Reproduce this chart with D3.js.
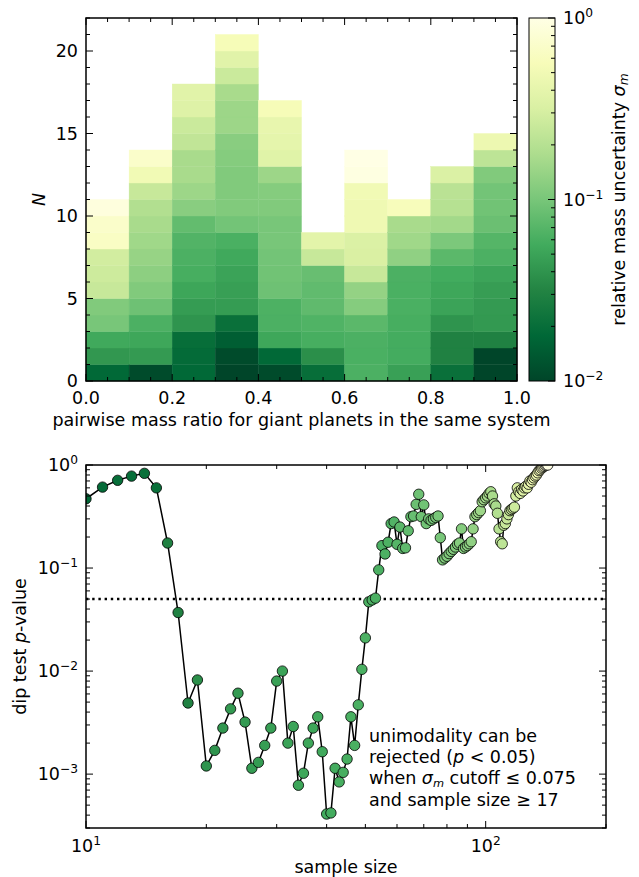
<!DOCTYPE html>
<html>
<head>
<meta charset="utf-8">
<script src="https://cdn.jsdelivr.net/npm/d3@7"></script>
<style>
  html, body { margin: 0; padding: 0; background: #ffffff; }
  svg { display: block; }
  text { font-family: "DejaVu Sans", sans-serif; fill: #000; }
</style>
</head>
<body>
<svg id="chart" width="639" height="877"></svg>
<script>
// ---------------- DATA ----------------
// Histogram bin edges (pairwise mass ratio)
const binEdges = [0.0, 0.1, 0.2, 0.3, 0.4, 0.5, 0.6, 0.7, 0.8, 0.9, 1.0];
// relative mass uncertainty sigma_m of each planet pair, stacked bottom→top in each bin
const sigmaBin0 = [0.018, 0.042, 0.055, 0.10, 0.11, 0.25, 0.27, 0.29, 0.65, 0.70, 0.90];
const sigmaBin1 = [0.011, 0.044, 0.053, 0.063, 0.09, 0.11, 0.125, 0.14, 0.155, 0.17, 0.19, 0.25, 0.50, 0.70];
const sigmaBin2 = [0.018, 0.019, 0.020, 0.040, 0.045, 0.052, 0.060, 0.063, 0.067, 0.080, 0.12, 0.15, 0.17, 0.17, 0.23, 0.26, 0.35, 0.37];
const sigmaBin3 = [0.010, 0.011, 0.015, 0.021, 0.045, 0.047, 0.050, 0.055, 0.062, 0.095, 0.11, 0.11, 0.11, 0.115, 0.12, 0.15, 0.15, 0.17, 0.26, 0.37, 0.55];
const sigmaBin4 = [0.011, 0.018, 0.053, 0.063, 0.064, 0.09, 0.093, 0.095, 0.10, 0.10, 0.11, 0.115, 0.15, 0.36, 0.40, 0.42, 0.55];
const sigmaBin5 = [0.020, 0.037, 0.060, 0.066, 0.078, 0.079, 0.085, 0.25, 0.38];
const sigmaBin6 = [0.063, 0.062, 0.063, 0.074, 0.115, 0.135, 0.25, 0.32, 0.33, 0.48, 0.48, 0.50, 0.95, 1.0];
const sigmaBin7 = [0.048, 0.058, 0.058, 0.060, 0.062, 0.062, 0.063, 0.13, 0.155, 0.17, 0.58];
const sigmaBin8 = [0.021, 0.030, 0.030, 0.040, 0.050, 0.053, 0.057, 0.074, 0.105, 0.16, 0.20, 0.21, 0.33];
const sigmaBin9 = [0.010, 0.010, 0.030, 0.043, 0.044, 0.046, 0.051, 0.063, 0.069, 0.087, 0.093, 0.095, 0.11, 0.22, 0.46];
const sigmaBins = [sigmaBin0, sigmaBin1, sigmaBin2, sigmaBin3, sigmaBin4, sigmaBin5, sigmaBin6, sigmaBin7, sigmaBin8, sigmaBin9];

const histXTicks = [0.0, 0.2, 0.4, 0.6, 0.8, 1.0];
const histXTickLabels = ["0.0", "0.2", "0.4", "0.6", "0.8", "1.0"];
const histYTicks = [0, 5, 10, 15, 20];
const cbarTicks = [0.01, 0.1, 1];
const cbarTickExp = ["−2", "−1", "0"];

// dip test: sample size vs p-value
const sampleSize = [10, 11, 12, 13, 14, 15, 16, 17, 18, 19, 20, 21, 22, 23, 24, 25, 26, 27, 28, 29,
  30, 31, 32, 33, 34, 35, 36, 37, 38, 39, 40, 41, 42, 43, 44, 45, 46, 47, 48, 49,
  50, 51, 52, 53, 54, 55, 56, 57, 58, 59, 60, 61, 62, 63, 64, 65, 66, 67, 68, 69,
  70, 71, 72, 73, 74, 75, 76, 77, 78, 79, 80, 81, 82, 83, 84, 85, 86, 87, 88, 89,
  90, 91, 92, 93, 94, 95, 96, 97, 98, 99, 100, 101, 102, 103, 104, 105, 106, 107, 108, 109,
  110, 111, 112, 113, 114, 115, 116, 117, 118, 119, 120, 121, 122, 123, 124, 125, 126, 127, 128, 129,
  130, 131, 132, 133, 134, 135, 136, 137, 138, 139, 140, 141, 142, 143];
const pValue = [0.47, 0.61, 0.71, 0.78, 0.83, 0.60, 0.175, 0.037, 0.0049, 0.0082,
  0.0012, 0.0017, 0.0028, 0.0043, 0.0061, 0.0032, 0.00114, 0.0013, 0.0019, 0.0028,
  0.0080, 0.0100, 0.0020, 0.0029, 0.00078, 0.00102, 0.0020, 0.0028, 0.0036, 0.00165,
  0.00041, 0.00042, 0.00114, 0.00084, 0.00104, 0.0014, 0.0036, 0.0019, 0.0047, 0.0104,
  0.021, 0.047, 0.049, 0.051, 0.096, 0.165, 0.137, 0.178, 0.27, 0.28,
  0.17, 0.25, 0.155, 0.157, 0.23, 0.315, 0.32, 0.415, 0.52, 0.315,
  0.41, 0.27, 0.30, 0.29, 0.30, 0.31, 0.32, 0.197, 0.12, 0.125,
  0.13, 0.138, 0.145, 0.152, 0.16, 0.17, 0.175, 0.24, 0.155, 0.16,
  0.165, 0.172, 0.18, 0.24, 0.315, 0.33, 0.345, 0.36, 0.44, 0.46,
  0.48, 0.50, 0.53, 0.55, 0.50, 0.42, 0.40, 0.34, 0.24, 0.18,
  0.172, 0.26, 0.27, 0.30, 0.33, 0.36, 0.37, 0.38, 0.39, 0.50,
  0.60, 0.55, 0.53, 0.58, 0.56, 0.60, 0.62, 0.60, 0.65, 0.70,
  0.68, 0.72, 0.75, 0.78, 0.80, 0.84, 0.88, 0.90, 0.93, 0.95,
  0.97, 0.99, 1.0, 1.0];
const pThreshold = 0.05;
const dipXTicks = [10, 100];
const dipXTickExp = ["1", "2"];
const dipYTicks = [0.001, 0.01, 0.1, 1];
const dipYTickExp = ["−3", "−2", "−1", "0"];
const annotationLines = ["unimodality can be", "rejected", "when", "and sample size ≥ 17"];

// ---------------- SETUP ----------------
const svg = d3.select("#chart");
const FONT = 17.5;
const MAJ = 7, MIN = 4;

const ylgnStops = ["#ffffe5", "#f7fcb9", "#d9f0a3", "#addd8e", "#78c679", "#41ab5d", "#238443", "#006837", "#004529"];
const ylgn = d3.scaleLinear().domain(d3.range(9).map(i => i / 8)).range(ylgnStops).interpolate(d3.interpolateRgb);
const sigmaToT = d3.scaleLog().domain([0.01, 1]).range([1, 0]).clamp(true);
const color = s => ylgn(sigmaToT(s));

function minorLog(lo, hi) {
  const out = [];
  for (let e = Math.floor(Math.log10(lo)); e <= Math.ceil(Math.log10(hi)); e++) {
    for (let m = 2; m <= 9; m++) {
      const v = m * Math.pow(10, e);
      if (v >= lo * 0.999 && v <= hi * 1.001) out.push(v);
    }
  }
  return out;
}

function ticksLine(g, vals, scale, orient, len, x0, x1, y0, y1) {
  vals.forEach(v => {
    const p = scale(v);
    if (orient === "bottom") g.append("line").attr("x1", p).attr("x2", p).attr("y1", y1).attr("y2", y1 - len);
    if (orient === "top") g.append("line").attr("x1", p).attr("x2", p).attr("y1", y0).attr("y2", y0 + len);
    if (orient === "left") g.append("line").attr("y1", p).attr("y2", p).attr("x1", x0).attr("x2", x0 + len);
    if (orient === "right") g.append("line").attr("y1", p).attr("y2", p).attr("x1", x1).attr("x2", x1 - len);
  });
}

function supLabel(g, x, y, anchor, base, exp) {
  const t = g.append("text").attr("x", x).attr("y", y).attr("text-anchor", anchor)
    .attr("font-size", FONT);
  t.append("tspan").text(base);
  t.append("tspan").attr("dy", -7).attr("font-size", FONT * 0.7).text(exp);
  return t;
}

// ---------------- TOP: stacked histogram ----------------
const H = { left: 86, right: 517, top: 18, bottom: 381 };
const hx = d3.scaleLinear().domain([0, 1]).range([H.left, H.right]);
const hy = d3.scaleLinear().domain([0, 22]).range([H.bottom, H.top]);

const gH = svg.append("g");
sigmaBins.forEach((bin, i) => {
  bin.forEach((s, j) => {
    gH.append("rect")
      .attr("x", hx(binEdges[i]))
      .attr("width", hx(binEdges[i + 1]) - hx(binEdges[i]))
      .attr("y", hy(j + 1))
      .attr("height", hy(j) - hy(j + 1))
      .attr("fill", color(s))
      .attr("stroke", color(s))
      .attr("stroke-width", 0.4);
  });
});

const gHt = svg.append("g").attr("stroke", "#000").attr("stroke-width", 1);
const hxMinor = [0.05,0.1,0.15,0.25,0.3,0.35,0.45,0.5,0.55,0.65,0.7,0.75,0.85,0.9,0.95];
const hyMinor = d3.range(0, 23).filter(v => v % 5 !== 0);
["bottom", "top"].forEach(o => {
  ticksLine(gHt, histXTicks, hx, o, MAJ, H.left, H.right, H.top, H.bottom);
  ticksLine(gHt, hxMinor, hx, o, MIN, H.left, H.right, H.top, H.bottom);
});
["left", "right"].forEach(o => {
  ticksLine(gHt, histYTicks, hy, o, MAJ, H.left, H.right, H.top, H.bottom);
  ticksLine(gHt, hyMinor, hy, o, MIN, H.left, H.right, H.top, H.bottom);
});
svg.append("rect").attr("x", H.left).attr("y", H.top).attr("width", H.right - H.left).attr("height", H.bottom - H.top)
  .attr("fill", "none").attr("stroke", "#000").attr("stroke-width", 1.5);

histXTicks.forEach((v, i) => {
  svg.append("text").attr("x", hx(v)).attr("y", H.bottom + 23).attr("text-anchor", "middle")
    .attr("font-size", FONT).text(histXTickLabels[i]);
});
histYTicks.forEach(v => {
  svg.append("text").attr("x", H.left - 8).attr("y", hy(v) + 6).attr("text-anchor", "end")
    .attr("font-size", FONT).text(v);
});
svg.append("text").attr("x", (H.left + H.right) / 2).attr("y", H.bottom + 45).attr("text-anchor", "middle")
  .attr("font-size", FONT).text("pairwise mass ratio for giant planets in the same system");
svg.append("text").attr("transform", `translate(${45},${(H.top + H.bottom) / 2}) rotate(-90)`)
  .attr("text-anchor", "middle").attr("font-size", FONT).attr("font-style", "italic").text("N");

// ---------------- COLORBAR ----------------
const C = { left: 529, right: 555, top: 18, bottom: 381 };
const cy = d3.scaleLog().domain([0.01, 1]).range([C.bottom, C.top]);
const defs = svg.append("defs");
const grad = defs.append("linearGradient").attr("id", "cbgrad").attr("x1", 0).attr("y1", 1).attr("x2", 0).attr("y2", 0);
ylgnStops.slice().reverse().forEach((c, i) => {
  grad.append("stop").attr("offset", i / 8).attr("stop-color", c);
});
svg.append("rect").attr("x", C.left).attr("y", C.top).attr("width", C.right - C.left).attr("height", C.bottom - C.top)
  .attr("fill", "url(#cbgrad)");
const gCt = svg.append("g").attr("stroke", "#000").attr("stroke-width", 1);
ticksLine(gCt, cbarTicks, cy, "right", MAJ, C.left, C.right, C.top, C.bottom);
ticksLine(gCt, minorLog(0.01, 1), cy, "right", MIN, C.left, C.right, C.top, C.bottom);
svg.append("rect").attr("x", C.left).attr("y", C.top).attr("width", C.right - C.left).attr("height", C.bottom - C.top)
  .attr("fill", "none").attr("stroke", "#000").attr("stroke-width", 1);
cbarTicks.forEach((v, i) => {
  supLabel(svg, C.right + 8, cy(v) + 6, "start", "10", cbarTickExp[i]);
});
{
  const t = svg.append("text").attr("transform", `translate(${625},${(C.top + C.bottom) / 2}) rotate(-90)`)
    .attr("text-anchor", "middle").attr("font-size", FONT);
  t.append("tspan").text("relative mass uncertainty ");
  t.append("tspan").attr("font-style", "italic").text("σ");
  t.append("tspan").attr("font-style", "italic").attr("font-size", FONT * 0.7).attr("dy", 3).text("m");
}

// ---------------- BOTTOM: dip test ----------------
const B = { left: 86, right: 606, top: 465, bottom: 828 };
const bx = d3.scaleLog().domain([10, 200]).range([B.left, B.right]);
const by = d3.scaleLog().domain([3e-4, 1]).range([B.bottom, B.top]);

// cutoff for sample size n = n-th smallest sigma in the sample
const sortedSigma = sigmaBins.flat().slice().sort((a, b) => a - b);
const pts = sampleSize.map((n, i) => ({ n, p: pValue[i], s: sortedSigma[Math.min(n, sortedSigma.length) - 1] }));

defs.append("clipPath").attr("id", "clipB").append("rect")
  .attr("x", B.left).attr("y", B.top).attr("width", B.right - B.left).attr("height", B.bottom - B.top);

const gB = svg.append("g").attr("clip-path", "url(#clipB)");
gB.append("line").attr("x1", B.left).attr("x2", B.right).attr("y1", by(pThreshold)).attr("y2", by(pThreshold))
  .attr("stroke", "#000").attr("stroke-width", 2.4).attr("stroke-dasharray", "2.4,3.8");
gB.append("path").datum(pts)
  .attr("d", d3.line().x(d => bx(d.n)).y(d => by(d.p)))
  .attr("fill", "none").attr("stroke", "#000").attr("stroke-width", 1.5);
gB.selectAll("circle.pt").data(pts).enter().append("circle")
  .attr("class", "pt")
  .attr("cx", d => bx(d.n)).attr("cy", d => by(d.p)).attr("r", 5.2)
  .attr("fill", d => color(d.s)).attr("stroke", "#000").attr("stroke-width", 0.8);

const gBt = svg.append("g").attr("stroke", "#000").attr("stroke-width", 1);
["bottom", "top"].forEach(o => {
  ticksLine(gBt, dipXTicks, bx, o, MAJ, B.left, B.right, B.top, B.bottom);
  ticksLine(gBt, minorLog(10, 200).filter(v => v !== 100), bx, o, MIN, B.left, B.right, B.top, B.bottom);
});
["left", "right"].forEach(o => {
  ticksLine(gBt, dipYTicks, by, o, MAJ, B.left, B.right, B.top, B.bottom);
  ticksLine(gBt, minorLog(3e-4, 1), by, o, MIN, B.left, B.right, B.top, B.bottom);
});
svg.append("rect").attr("x", B.left).attr("y", B.top).attr("width", B.right - B.left).attr("height", B.bottom - B.top)
  .attr("fill", "none").attr("stroke", "#000").attr("stroke-width", 1.5);

dipXTicks.forEach((v, i) => {
  supLabel(svg, bx(v), B.bottom + 24, "middle", "10", dipXTickExp[i]);
});
dipYTicks.forEach((v, i) => {
  supLabel(svg, B.left - 8, by(v) + 6, "end", "10", dipYTickExp[i]);
});
svg.append("text").attr("x", (B.left + B.right) / 2).attr("y", B.bottom + 45).attr("text-anchor", "middle")
  .attr("font-size", FONT).text("sample size");
{
  const t = svg.append("text").attr("transform", `translate(${26},${(B.top + B.bottom) / 2}) rotate(-90)`)
    .attr("text-anchor", "middle").attr("font-size", FONT);
  t.append("tspan").text("dip test ");
  t.append("tspan").attr("font-style", "italic").text("p");
  t.append("tspan").text("-value");
}

// annotation
{
  const ax = 369, ay = 742, lh = 21.2;
  svg.append("text").attr("x", ax).attr("y", ay).attr("font-size", FONT).text(annotationLines[0]);
  const t2 = svg.append("text").attr("x", ax).attr("y", ay + lh).attr("font-size", FONT);
  t2.append("tspan").text(annotationLines[1] + " (");
  t2.append("tspan").attr("font-style", "italic").text("p");
  t2.append("tspan").text(" < " + pThreshold.toFixed(2) + ")");
  const t3 = svg.append("text").attr("x", ax).attr("y", ay + 2 * lh).attr("font-size", FONT);
  t3.append("tspan").text(annotationLines[2] + " ");
  t3.append("tspan").attr("font-style", "italic").text("σ");
  t3.append("tspan").attr("font-style", "italic").attr("font-size", FONT * 0.65).attr("dy", 2.5).text("m");
  t3.append("tspan").attr("dy", -2.5).text(" cutoff  ≤ 0.075");
  svg.append("text").attr("x", ax).attr("y", ay + 3 * lh).attr("font-size", FONT).text(annotationLines[3]);
}
</script>
</body>
</html>
